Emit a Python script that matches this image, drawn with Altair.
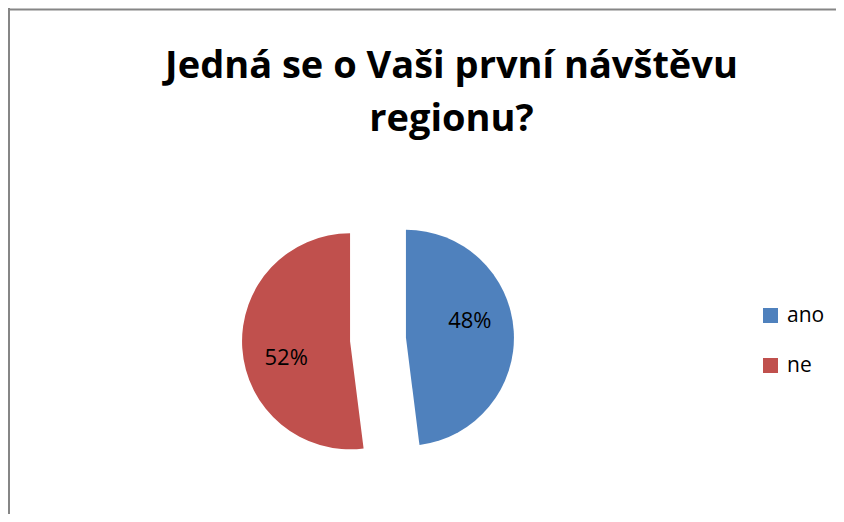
import altair as alt
import pandas as pd

categories = ["ano", "ne"]
values = [48, 52]
colors = ["#4F81BD", "#C0504D"]
title_lines = ["Jedná se o Vaši první návštěvu", "regionu?"]

W, H = 828, 506
CX, CY = 370, 331.5
R = 108
EXPLODE = 28
LABEL_R = 66
LABEL_SHIFT = -0.192
FONT = "Open Sans"

df = pd.DataFrame({"category": categories, "value": values})

base = alt.Chart(df).transform_joinaggregate(
    total="sum(value)"
).transform_window(
    cum="sum(value)", sort=[alt.SortField("category", order="ascending")]
).transform_calculate(
    t0="(datum.cum - datum.value) / datum.total * 2 * PI",
    t1="datum.cum / datum.total * 2 * PI",
).transform_calculate(
    mid="(datum.t0 + datum.t1) / 2",
).transform_calculate(
    cx=f"{CX} + {EXPLODE} * sin(datum.mid)",
    cy=f"{CY} - {EXPLODE} * cos(datum.mid)",
    pct="format(datum.value / datum.total, '.0%')",
).transform_calculate(
    lx=f"datum.cx + {LABEL_R} * sin(datum.mid + ({LABEL_SHIFT}))",
    ly=f"datum.cy - {LABEL_R} * cos(datum.mid + ({LABEL_SHIFT}))",
)

color = alt.Color(
    "category:N",
    scale=alt.Scale(domain=categories, range=colors),
    legend=alt.Legend(
        title=None,
        orient="none",
        legendX=752,
        legendY=297,
        symbolType="square",
        symbolSize=225,
        symbolStrokeWidth=0,
        symbolOpacity=1,
        labelFont=FONT,
        labelFontSize=21,
        labelColor="#000000",
        labelOffset=6,
        rowPadding=28,
        padding=0,
    ),
)

arcs = base.mark_arc(radius=R, stroke=None).encode(
    theta=alt.Theta("t0:Q", scale=None),
    theta2="t1:Q",
    x=alt.X("cx:Q", scale=None),
    y=alt.Y("cy:Q", scale=None),
    color=color,
)

labels = base.mark_text(font=FONT, fontSize=22, color="#000000",
                        align="center", baseline="middle").encode(
    x=alt.X("lx:Q", scale=None),
    y=alt.Y("ly:Q", scale=None),
    text="pct:N",
)

title_df = pd.DataFrame({"line": title_lines, "row": [0, 1]})
title = alt.Chart(title_df).transform_calculate(
    ty="70 + datum.row * 53"
).mark_text(font=FONT, fontSize=38, fontWeight="bold", color="#000000",
            align="center", baseline="alphabetic").encode(
    x=alt.value(443.5),
    y=alt.Y("ty:Q", scale=None),
    text="line:N",
)

border_src = alt.Data(values=[{"k": 1}])
left_border = alt.Chart(border_src).mark_rule(color="#868686", strokeWidth=2).encode(
    x=alt.value(1), y=alt.value(0), y2=alt.value(H)
)
top_border = alt.Chart(border_src).mark_rule(color="#868686", strokeWidth=2).encode(
    x=alt.value(0), x2=alt.value(W + 20), y=alt.value(1.5)
)

chart = alt.layer(left_border, top_border, arcs, labels, title).properties(
    width=W, height=H, padding=0, autosize="none"
).configure_view(stroke=None)

chart.save("out.html", embed_options={"renderer": "svg", "actions": False})
